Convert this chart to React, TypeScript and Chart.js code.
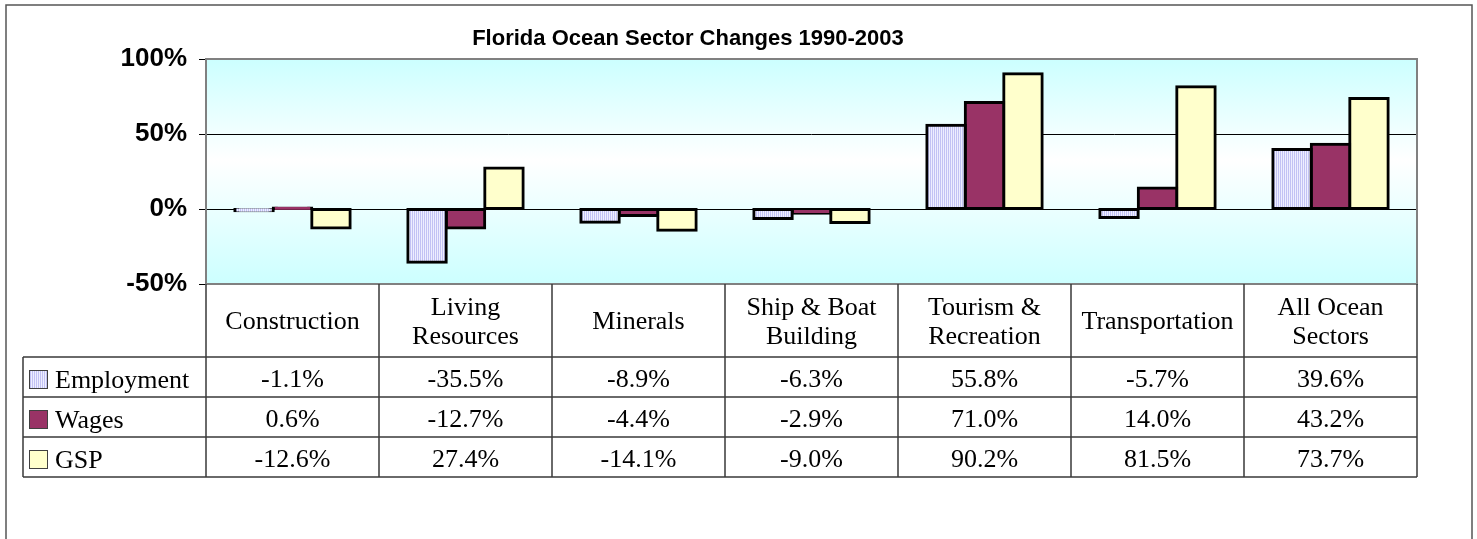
import React, { useEffect, useRef } from "react";
import { Chart, registerables } from "chart.js";
Chart.register(...registerables);

const chartTitle = "Florida Ocean Sector Changes 1990-2003";
const categories: string[][] = [
  ["Construction"],
  ["Living", "Resources"],
  ["Minerals"],
  ["Ship & Boat", "Building"],
  ["Tourism &", "Recreation"],
  ["Transportation"],
  ["All Ocean", "Sectors"],
];
const seriesNames = ["Employment", "Wages", "GSP"];
const employment = [-1.1, -35.5, -8.9, -6.3, 55.8, -5.7, 39.6];
const wages = [0.6, -12.7, -4.4, -2.9, 71.0, 14.0, 43.2];
const gsp = [-12.6, 27.4, -14.1, -9.0, 90.2, 81.5, 73.7];
const yMin = -50;
const yMax = 100;
const yStep = 50;

const SANS = "'Liberation Sans', Arial, sans-serif";
const SERIF = "'Liberation Serif', 'Times New Roman', serif";

function makeStripePattern(ctx: CanvasRenderingContext2D) {
  const c = document.createElement("canvas");
  c.width = 2;
  c.height = 2;
  const g = c.getContext("2d")!;
  g.fillStyle = "#EEEEFF";
  g.fillRect(0, 0, 2, 2);
  g.fillStyle = "#C2C2F4";
  g.fillRect(0, 0, 1, 2);
  return ctx.createPattern(c, "repeat")!;
}

export default function App() {
  const ref = useRef<HTMLCanvasElement | null>(null);

  useEffect(() => {
    const canvas = ref.current!;
    const ctx0 = canvas.getContext("2d")!;
    const stripe = makeStripePattern(ctx0);
    const fills: any[] = [stripe, "#993366", "#FFFFCC"];
    const seriesData = [employment, wages, gsp];

    const bgPlugin = {
      id: "bgPlugin",
      beforeDraw(chart: any) {
        const { ctx, chartArea: a } = chart;
        ctx.save();
        ctx.fillStyle = "#FFFFFF";
        ctx.fillRect(0, 0, chart.width, chart.height);
        const g = ctx.createLinearGradient(0, a.top, 0, a.bottom);
        g.addColorStop(0, "#CCFFFF");
        g.addColorStop(0.45, "#FFFFFF");
        g.addColorStop(1, "#CCFFFF");
        ctx.fillStyle = g;
        ctx.fillRect(a.left, a.top, a.right - a.left, a.bottom - a.top);
        ctx.restore();
      },
    };

    const tablePlugin = {
      id: "tablePlugin",
      afterDraw(chart: any) {
        const { ctx, chartArea: a } = chart;
        const xs = chart.scales.x;
        const n = categories.length;
        const colW = (a.right - a.left) / n;
        const headTop = a.bottom;
        const headBottom = headTop + 73;
        const rowH = 40;
        const tableBottom = headBottom + rowH * seriesNames.length;
        const legendLeft = 23;
        ctx.save();

        // outer chart border
        ctx.strokeStyle = "#555555";
        ctx.lineWidth = 1.5;
        ctx.beginPath();
        ctx.moveTo(6, chart.height + 2);
        ctx.lineTo(6, 5);
        ctx.lineTo(1472, 5);
        ctx.lineTo(1472, chart.height + 2);
        ctx.stroke();

        // plot area border
        ctx.strokeStyle = "#808080";
        ctx.lineWidth = 2;
        ctx.strokeRect(a.left, a.top, a.right - a.left, a.bottom - a.top);

        // title
        ctx.fillStyle = "#000";
        ctx.font = `bold 22px ${SANS}`;
        ctx.textAlign = "center";
        ctx.textBaseline = "alphabetic";
        ctx.fillText(chartTitle, 688, 45);

        // table lines
        ctx.strokeStyle = "#3a3a3a";
        ctx.lineWidth = 1.5;
        ctx.beginPath();
        for (let i = 0; i <= n; i++) {
          const x = Math.round(xs.getPixelForValue(i) - colW / 2);
          const xx = i === n ? a.right : x;
          ctx.moveTo(xx, headTop);
          ctx.lineTo(xx, tableBottom);
        }
        for (let r = 0; r <= seriesNames.length; r++) {
          const y = headBottom + r * rowH;
          ctx.moveTo(legendLeft, y);
          ctx.lineTo(a.right, y);
        }
        ctx.moveTo(legendLeft, headBottom);
        ctx.lineTo(legendLeft, tableBottom);
        ctx.stroke();

        // header labels
        ctx.font = `26px ${SERIF}`;
        ctx.fillStyle = "#000";
        ctx.textAlign = "center";
        categories.forEach((lines, i) => {
          const cx = xs.getPixelForValue(i);
          if (lines.length === 1) {
            ctx.fillText(lines[0], cx, headTop + 45);
          } else {
            ctx.fillText(lines[0], cx, headTop + 31);
            ctx.fillText(lines[1], cx, headTop + 60);
          }
        });

        // rows
        seriesNames.forEach((name, r) => {
          const top = headBottom + r * rowH;
          ctx.fillStyle = fills[r];
          ctx.fillRect(29, top + 13, 19, 19);
          ctx.strokeStyle = "#404040";
          ctx.lineWidth = 1;
          ctx.strokeRect(29.5, top + 13.5, 18, 18);
          ctx.fillStyle = "#000";
          ctx.textAlign = "left";
          ctx.fillText(name, 55, top + 31);
          ctx.textAlign = "center";
          seriesData[r].forEach((v, i) => {
            ctx.fillText(v.toFixed(1) + "%", xs.getPixelForValue(i), top + 30);
          });
        });
        ctx.restore();
      },
    };

    const chart = new Chart(canvas, {
      type: "bar",
      data: {
        labels: categories.map((c) => c.join(" ")),
        datasets: seriesNames.map((name, r) => ({
          label: name,
          data: seriesData[r],
          backgroundColor: fills[r],
          borderColor: "#000000",
          borderWidth: 3,
          borderSkipped: false,
          inflateAmount: 1.5,
          barPercentage: 1,
          categoryPercentage: 0.667,
        })),
      },
      options: {
        animation: false,
        responsive: false,
        devicePixelRatio: 1,
        layout: { padding: { left: 0, right: 60, top: 59, bottom: 255 } },
        plugins: {
          legend: { display: false },
          title: { display: false },
          tooltip: { enabled: false },
        },
        scales: {
          x: {
            display: false,
            grid: { display: false },
          },
          y: {
            min: yMin,
            max: yMax,
            afterFit(scale: any) {
              scale.width = 206;
            },
            ticks: {
              stepSize: yStep,
              autoSkip: false,
              padding: 12,
              color: "#000",
              font: { family: SANS, size: 26, weight: "bold" },
              callback: (v: any) => v + "%",
            },
            border: { display: false },
            grid: {
              drawTicks: true,
              tickLength: 7,
              tickColor: "#000",
              lineWidth: 1,
              color: (c: any) =>
                c.tick && (c.tick.value === 0 || c.tick.value === 50) ? "#000" : "rgba(0,0,0,0)",
            },
          },
        },
      } as any,
      plugins: [bgPlugin, tablePlugin],
    });
    return () => chart.destroy();
  }, []);

  return (
    <div style={{ position: "fixed", left: 0, top: 0, width: 1477, height: 539, background: "#fff" }}>
      <canvas ref={ref} width={1477} height={539} style={{ display: "block" }} />
    </div>
  );
}
